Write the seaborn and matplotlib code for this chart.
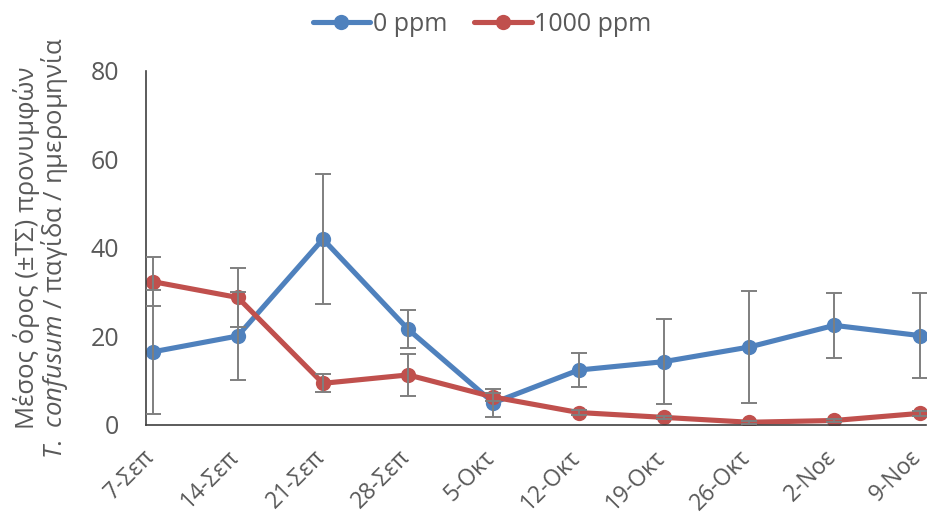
import numpy as np
import pandas as pd
import matplotlib
matplotlib.use("Agg")
import matplotlib.pyplot as plt
import matplotlib.transforms as mtransforms
import seaborn as sns
from matplotlib.lines import Line2D

# Sampling dates
dates = ["7-Σεπ", "14-Σεπ", "21-Σεπ", "28-Σεπ", "5-Οκτ",
         "12-Οκτ", "19-Οκτ", "26-Οκτ", "2-Νοε", "9-Νοε"]

# Mean larvae per trap per day and standard error
mean_0ppm = [16.5, 20.1, 42.0, 21.6, 5.0, 12.4, 14.3, 17.6, 22.5, 20.2]
se_0ppm = [14.0, 9.9, 14.7, 4.3, 3.1, 3.8, 9.6, 12.7, 7.4, 9.6]
mean_1000ppm = [32.4, 28.8, 9.4, 11.3, 6.3, 2.8, 1.7, 0.6, 1.0, 2.6]
se_1000ppm = [5.6, 6.6, 2.0, 4.8, 1.0, 0.6, 0.4, 0.3, 0.3, 0.5]

series_names = ["0 ppm", "1000 ppm"]
colors = {"0 ppm": "#4F81BD", "1000 ppm": "#C0504D"}

sns.set_theme(style="white")
plt.rcParams["font.family"] = ["Open Sans", "DejaVu Sans"]
plt.rcParams["mathtext.fontset"] = "custom"
plt.rcParams["mathtext.it"] = "Open Sans:italic"
plt.rcParams["mathtext.rm"] = "Open Sans"

text_color = "#595959"
axis_color = "#404040"
fs = 18

pos = np.arange(len(dates))
df = pd.DataFrame({
    "pos": np.concatenate([pos, pos]),
    "mean": mean_0ppm + mean_1000ppm,
    "se": se_0ppm + se_1000ppm,
    "dose": [series_names[0]] * len(dates) + [series_names[1]] * len(dates),
})

fig = plt.figure(figsize=(9.29, 5.22), dpi=100)
ax = fig.add_axes([0.157, 0.186, 0.84, 0.678])

sns.lineplot(data=df, x="pos", y="mean", hue="dose", palette=colors,
             marker="o", markersize=11, markeredgewidth=0, linewidth=3.7,
             ax=ax, legend=False, zorder=2)

for name in series_names:
    sub = df[df["dose"] == name]
    ax.errorbar(sub["pos"], sub["mean"], yerr=sub["se"], fmt="none",
                ecolor="#7F7F7F", elinewidth=1.4, capsize=5.5, capthick=1.4,
                zorder=3)

ax.set_xlim(-0.078, 9.078)
ax.set_ylim(0, 80)
ax.set_yticks([0, 20, 40, 60, 80])
ax.set_xticks(pos - 0.078)
ax.set_xticklabels(dates, rotation=45, ha="right", va="center",
                   rotation_mode="anchor")
ax.tick_params(axis="both", direction="out", length=7, width=1.2,
               colors=axis_color, labelcolor=text_color, labelsize=fs)
ax.tick_params(axis="x", pad=14, labelsize=16.5)
ax.tick_params(axis="y", pad=12)
shift = mtransforms.ScaledTranslation(0.05, 0, fig.dpi_scale_trans)
for lab in ax.get_xticklabels():
    lab.set_transform(lab.get_transform() + shift)

for side in ["top", "right"]:
    ax.spines[side].set_visible(False)
for side in ["left", "bottom"]:
    ax.spines[side].set_color(axis_color)
    ax.spines[side].set_linewidth(1.2)

ax.set_xlabel("")
ax.set_ylabel("Μέσος όρος (±ΤΣ) προνυμφών\n"
              r"$\mathit{T.\ confusum}$ / παγίδα / ημερομηνία",
              fontsize=18.5, color=text_color, labelpad=15, linespacing=0.95)

handles = [Line2D([0], [0], color=colors[n], lw=3.7, marker="o",
                  markersize=11, markeredgewidth=0) for n in series_names]
fig.legend(handles, series_names, loc="upper center",
           bbox_to_anchor=(0.519, 1.02), ncol=2, frameon=False,
           fontsize=fs, labelcolor=text_color, handlelength=2.3,
           handletextpad=0.1, columnspacing=1.1)

fig.savefig("out.png", dpi=100)
